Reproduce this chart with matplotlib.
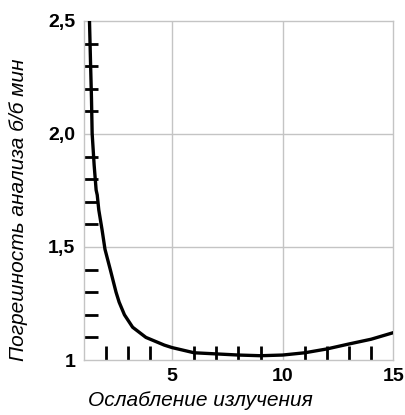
# Погрешность анализа vs ослабление излучения
import numpy as np
import matplotlib
matplotlib.use("Agg")
import matplotlib.pyplot as plt

# ----------------------------
# Data
# ----------------------------
attenuation = [1.27, 1.32, 1.36, 1.39, 1.48, 1.57, 1.62, 1.69, 1.84, 1.97,
               2.21, 2.47, 2.61, 2.85, 3.22, 3.82, 4.65, 5.0, 6.0, 7.0,
               8.0, 9.0, 10.0, 11.0, 12.0, 13.0, 14.0, 15.0]
error_ratio = [2.5, 2.305, 2.158, 2.003, 1.863, 1.752, 1.73, 1.664, 1.575, 1.49,
               1.4, 1.3, 1.256, 1.2, 1.145, 1.1, 1.066, 1.055, 1.032, 1.027,
               1.022, 1.019, 1.022, 1.032, 1.049, 1.071, 1.092, 1.121]

x_major = [5, 10, 15]
x_major_labels = ["5", "10", "15"]
y_major = [1.0, 1.5, 2.0, 2.5]
y_major_labels = ["1", "1,5", "2,0", "2,5"]
x_minor = list(range(2, 15))
y_minor = [round(1.1 + 0.1 * i, 1) for i in range(14)]

X_LABEL = "Ослабление излучения"
Y_LABEL = "Погрешность анализа б/б мин"

GRID_C = "#c4c4c4"

plt.rcParams["font.family"] = ["Liberation Sans", "DejaVu Sans"]

fig = plt.figure(figsize=(4.06, 4.15), dpi=100)
ax = fig.add_axes([0.2057, 0.1325, 0.763, 0.817])

ax.plot(attenuation, error_ratio, color="black", lw=2.4,
        solid_capstyle="round", solid_joinstyle="round", zorder=3)

ax.set_xlim(1, 15)
ax.set_ylim(1, 2.5)

# grid at the labelled values
for xv in x_major[:-1]:
    ax.axvline(xv, color=GRID_C, lw=1.0, zorder=1)
for yv in y_major[1:-1]:
    ax.axhline(yv, color=GRID_C, lw=1.0, zorder=1)

for sp in ax.spines.values():
    sp.set_color(GRID_C)
    sp.set_linewidth(1.0)

ax.set_xticks(x_major)
ax.set_xticklabels(x_major_labels)
ax.set_yticks(y_major)
ax.set_yticklabels(y_major_labels)
ax.set_xticks(x_minor, minor=True)
ax.set_yticks(y_minor, minor=True)

ax.tick_params(axis="both", which="major", length=0, labelsize=14, pad=6)
ax.tick_params(axis="both", which="minor", direction="in", length=10,
               width=2.0, color="black")
for lab in ax.get_xticklabels() + ax.get_yticklabels():
    lab.set_fontweight("bold")

fig.text(0.493, 0.036, X_LABEL, ha="center", va="center",
         fontsize=15, style="italic")
fig.text(0.045, 0.494, Y_LABEL, ha="center", va="center", rotation=90,
         fontsize=15, style="italic")

fig.savefig("out.png", dpi=100)
